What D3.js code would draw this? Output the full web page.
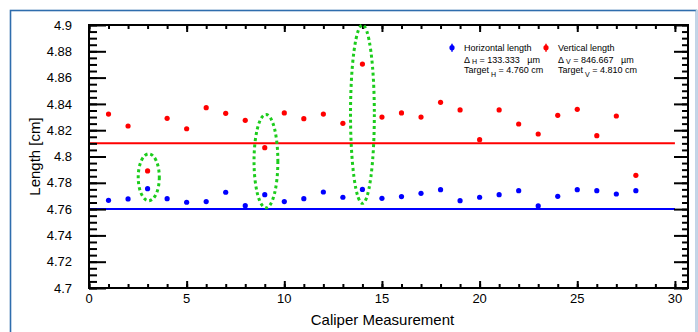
<!DOCTYPE html>
<html><head><meta charset="utf-8">
<script src="https://cdn.jsdelivr.net/npm/d3@7"></script>
<style>body{margin:0;background:#fff}svg{display:block;font-family:"Liberation Sans",Arial,Helvetica,sans-serif}</style>
</head><body><svg id="c" width="698" height="332"></svg>
<script>
const measurements = d3.range(1, 29);
const horizontal = [4.7667,4.7677,4.7755,4.7679,4.7652,4.7657,4.7728,4.7626,4.7710,4.7657,4.7679,4.7730,4.7690,4.7750,4.7682,4.7695,4.7720,4.7748,4.7664,4.7690,4.7710,4.7740,4.7624,4.7697,4.7748,4.7740,4.7715,4.7740];
const vertical = [4.8323,4.8232,4.7890,4.8290,4.8211,4.8371,4.8328,4.8275,4.8067,4.8331,4.8288,4.8323,4.8252,4.8703,4.8300,4.8331,4.8300,4.8412,4.8354,4.8128,4.8354,4.8247,4.8171,4.8313,4.8359,4.8158,4.8308,4.7857];
const targetH = 4.760, targetV = 4.810;
const yTicks = [4.7,4.72,4.74,4.76,4.78,4.8,4.82,4.84,4.86,4.88,4.9];
const xTicks = [0,5,10,15,20,25,30];
// highlighted outliers (center x, center y, half-width x, half-height y) in data units
const highlightX = [3.06, 9.06, 14.0];
const highlightY = [4.7842, 4.7965, 4.8322];
const highlightRX = [0.54, 0.61, 0.61];
const highlightRY = [0.0178, 0.0355, 0.0678];

const svg = d3.select("#c");
const L = 89, R = 688, T = 25, B = 288;
const x = d3.scaleLinear().domain([0, 30.67]).range([L, R]);
const y = d3.scaleLinear().domain([4.7, 4.9]).range([B, T]);

// outer frame
svg.append("rect").attr("x",10.5).attr("y",10.5).attr("width",686).attr("height",340)
  .attr("fill","none").attr("stroke","#2f6dad").attr("stroke-width",1.6);
svg.append("line").attr("x1",696.5).attr("x2",696.5).attr("y1",10).attr("y2",332).attr("stroke","#c5d5e6").attr("stroke-width",1.5);

// target lines
svg.append("line").attr("x1",x(0)).attr("x2",x(30)).attr("y1",y(targetV)).attr("y2",y(targetV)).attr("stroke","#ff0000").attr("stroke-width",2);
svg.append("line").attr("x1",x(0)).attr("x2",x(30)).attr("y1",y(targetH)).attr("y2",y(targetH)).attr("stroke","#0000ff").attr("stroke-width",2);

// axes
const g = svg.append("g");
const minorY = d3.range(4.7, 4.9001, 0.005).map(v=>+v.toFixed(3));
const minorX = d3.range(0, 31, 1);
g.append("g").attr("transform",`translate(${L},0)`).call(d3.axisRight(y).tickValues(yTicks).tickSize(17).tickFormat(""));
g.append("g").attr("transform",`translate(${L},0)`).call(d3.axisRight(y).tickValues(minorY).tickSize(8).tickFormat(""));
g.append("g").attr("transform",`translate(${R},0)`).call(d3.axisLeft(y).tickValues(yTicks).tickSize(14).tickFormat(""));
g.append("g").attr("transform",`translate(${R},0)`).call(d3.axisLeft(y).tickValues(minorY).tickSize(6).tickFormat(""));
g.append("g").attr("transform",`translate(0,${B})`).call(d3.axisTop(x).tickValues(xTicks).tickSize(7).tickFormat(""));
g.append("g").attr("transform",`translate(0,${B})`).call(d3.axisTop(x).tickValues(minorX).tickSize(4).tickFormat(""));
g.append("g").attr("transform",`translate(0,${T})`).call(d3.axisBottom(x).tickValues(xTicks).tickSize(7).tickFormat(""));
g.append("g").attr("transform",`translate(0,${T})`).call(d3.axisBottom(x).tickValues(minorX).tickSize(4).tickFormat(""));
g.selectAll(".domain").remove();
g.selectAll(".tick line").attr("stroke","#000").attr("stroke-width",2);
svg.append("rect").attr("x",L).attr("y",T).attr("width",R-L).attr("height",B-T)
  .attr("fill","none").attr("stroke","#000").attr("stroke-width",2);

// tick labels
svg.append("g").selectAll("text").data(yTicks).join("text")
  .attr("x",72).attr("y",d=>y(d)).attr("dy","0.36em").attr("text-anchor","end")
  .attr("font-size",13).attr("fill","#000").text(d=>d3.format("")(d));
svg.append("g").selectAll("text").data(xTicks).join("text")
  .attr("x",d=>x(d)).attr("y",303).attr("text-anchor","middle")
  .attr("font-size",13).attr("fill","#000").text(d=>d);

// axis titles
svg.append("text").attr("x",(x(0)+x(30))/2+0.5).attr("y",325).attr("text-anchor","middle")
  .attr("font-size",15).text("Caliper Measurement");
svg.append("text").attr("transform",`translate(40,${(T+B)/2}) rotate(-90)`).attr("text-anchor","middle")
  .attr("font-size",15).text("Length [cm]");

// points
svg.append("g").selectAll("circle").data(measurements).join("circle")
  .attr("cx",d=>x(d)).attr("cy",(d,i)=>y(horizontal[i])).attr("r",2.6).attr("fill","#0000ff");
svg.append("g").selectAll("circle").data(measurements).join("circle")
  .attr("cx",d=>x(d)).attr("cy",(d,i)=>y(vertical[i])).attr("r",2.6).attr("fill","#ff0000");

// highlight ellipses
svg.append("g").selectAll("ellipse").data(highlightX).join("ellipse")
  .attr("cx",d=>x(d)).attr("cy",(d,i)=>y(highlightY[i]))
  .attr("rx",(d,i)=>x(d+highlightRX[i])-x(d)).attr("ry",(d,i)=>y(highlightY[i]-highlightRY[i])-y(highlightY[i]))
  .attr("fill","none").attr("stroke","#1ccc1c").attr("stroke-width",3).attr("stroke-dasharray","3,3");

// legend
const leg = svg.append("g").attr("font-size",9).attr("fill","#000");
function marker(cx, cy, col){
  leg.append("line").attr("x1",cx).attr("x2",cx).attr("y1",cy-4).attr("y2",cy+4).attr("stroke",col).attr("stroke-width",1.5);
  leg.append("circle").attr("cx",cx).attr("cy",cy).attr("r",2.6).attr("fill",col);
}
marker(452, 47.7, "#0000ff");
marker(546, 47.7, "#ff0000");
leg.append("text").attr("x",464).attr("y",51).text("Horizontal length");
leg.append("text").attr("x",558).attr("y",51).text("Vertical length");
function line2(x0, sub, val){
  const t = leg.append("text").attr("x",x0).attr("y",62.5);
  t.append("tspan").text("\u0394");
  t.append("tspan").attr("font-size",7).attr("dx",2).attr("dy",1).text(sub);
  t.append("tspan").attr("dy",-1).text("\u00a0= " + val + "\u00a0\u00a0\u00a0\u00b5m");
}
function line3(x0, sub, val){
  const t = leg.append("text").attr("x",x0).attr("y",73);
  t.append("tspan").text("Target");
  t.append("tspan").attr("font-size",7).attr("dx",2).attr("dy",4).text(sub);
  t.append("tspan").attr("dy",-4).text("\u00a0= " + val + " cm");
}
line2(464, "H", "133.333");
line2(558, "V", "846.667");
line3(464, "H", targetH.toFixed(3));
line3(558, "V", targetV.toFixed(3));
</script></body></html>
